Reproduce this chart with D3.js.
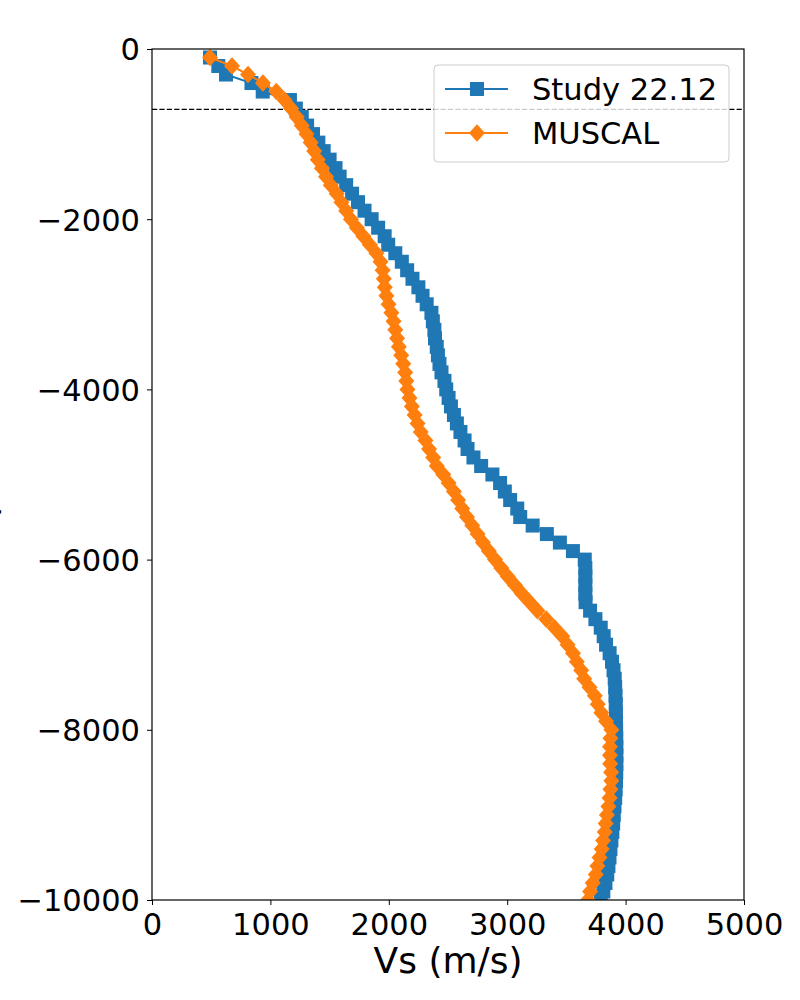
<!DOCTYPE html>
<html lang="en">
<head>
<meta charset="UTF-8">
<title>Vs profile</title>
<script src="https://d3js.org/d3.v7.min.js"></script>
<style>
  body { margin: 0; background: #fff; }
  text { font-family: "DejaVu Sans", sans-serif; fill: #000; }
</style>
</head>
<body>
<script>
  // depth grid (m), shared by both profiles
  var depths = [
    -100, -200, -300, -400, -500, -600, -700, -800, -900, -1000,
    -1100, -1200, -1300, -1400, -1500, -1600, -1700, -1800, -1900, -2000,
    -2100, -2200, -2300, -2400, -2500, -2600, -2700, -2800, -2900, -3000,
    -3100, -3200, -3300, -3400, -3500, -3600, -3700, -3800, -3900, -4000,
    -4100, -4200, -4300, -4400, -4500, -4600, -4700, -4800, -4900, -5000,
    -5100, -5200, -5300, -5400, -5500, -5600, -5700, -5800, -5900, -6000,
    -6100, -6200, -6300, -6400, -6500, -6600, -6700, -6800, -6900, -7000,
    -7100, -7200, -7300, -7400, -7500, -7600, -7700, -7800, -7900, -8000,
    -8100, -8200, -8300, -8400, -8500, -8600, -8700, -8800, -8900, -9000,
    -9100, -9200, -9300, -9400, -9500, -9600, -9700, -9800, -9900, -10000
  ]
  // Vs (m/s) for "Study 22.12"
  var studyVs = [
    490, 560, 625, 840, 935, 1165, 1215, 1265, 1310, 1360,
    1405, 1450, 1500, 1550, 1585, 1640, 1690, 1740, 1795, 1855,
    1910, 1965, 1995, 2055, 2110, 2155, 2200, 2250, 2285, 2320,
    2360, 2372, 2385, 2390, 2405, 2415, 2428, 2445, 2470, 2485,
    2505, 2525, 2550, 2575, 2605, 2640, 2665, 2715, 2780, 2875,
    2940, 2980, 3025, 3085, 3110, 3215, 3335, 3445, 3555, 3655,
    3660, 3660, 3660, 3660, 3662, 3700, 3745, 3790, 3815, 3835,
    3865, 3885, 3898, 3908, 3912, 3915, 3917, 3918, 3919, 3920,
    3921, 3922, 3922, 3922, 3921, 3919, 3916, 3912, 3906, 3900,
    3895, 3888, 3880, 3872, 3864, 3855, 3845, 3830, 3812, 3790
  ]
  // Vs (m/s) for "MUSCAL"
  var muscalVs = [
    490, 676, 811, 937, 1050, 1120, 1175, 1222, 1265, 1305,
    1340, 1370, 1400, 1435, 1470, 1510, 1560, 1600, 1640, 1680,
    1730, 1785, 1840, 1895, 1930, 1948, 1958, 1966, 1980, 1998,
    2022, 2040, 2055, 2070, 2085, 2105, 2122, 2138, 2148, 2158,
    2175, 2195, 2218, 2243, 2270, 2310, 2340, 2375, 2405, 2460,
    2505, 2550, 2585, 2620, 2660, 2705, 2750, 2795, 2845, 2897,
    2950, 3005, 3065, 3125, 3190, 3255, 3330, 3400, 3465, 3510,
    3556, 3588, 3625, 3650, 3695, 3740, 3765, 3795, 3835, 3880,
    3872, 3868, 3868, 3870, 3878, 3880, 3872, 3865, 3855, 3842,
    3832, 3824, 3810, 3798, 3780, 3762, 3748, 3722, 3700, 3682
  ]
  var seriesNames = ['Study 22.12', 'MUSCAL']
  var seriesColors = ['#1f77b4', '#ff7f0e']
  var xTicks = [0, 1000, 2000, 3000, 4000, 5000]
  var yTicks = [0, -2000, -4000, -6000, -8000, -10000]
  var refDepth = -710

  var plotL = 152, plotR = 744, plotT = 49, plotB = 900

  var x = d3.scaleLinear().domain([0, 5000]).range([plotL, plotR])
  var y = d3.scaleLinear().domain([-10000, 0]).range([plotB, plotT])

  var svg = d3.select('body').append('svg').attr('width', 800).attr('height', 1000)

  svg.append('clipPath').attr('id', 'plotclip')
    .append('rect').attr('x', plotL).attr('y', plotT)
    .attr('width', plotR - plotL).attr('height', plotB - plotT)

  var plot = svg.append('g').attr('clip-path', 'url(#plotclip)')

  // reference depth line
  plot.append('line')
    .attr('x1', plotL).attr('x2', plotR)
    .attr('y1', y(refDepth)).attr('y2', y(refDepth))
    .attr('stroke', '#000').attr('stroke-width', 1.2)
    .attr('stroke-dasharray', '5.2,2.2')

  var line = d3.line()
    .x(function(d) { return x(d[0]) })
    .y(function(d) { return y(d[1]) })

  var square = d3.symbol().type(d3.symbolSquare).size(14 * 14)
  var diamond = 'M0,-8.8L8,0L0,8.8L-8,0Z'

  function drawSeries(vals, color, isDiamond) {
    var pts = vals.map(function(v, i) { return [v, depths[i]] })
    plot.append('path')
      .attr('d', line(pts))
      .attr('fill', 'none')
      .attr('stroke', color)
      .attr('stroke-width', 2)
    plot.selectAll(null).data(pts).enter().append('path')
      .attr('d', isDiamond ? diamond : square())
      .attr('transform', function(d) { return 'translate(' + x(d[0]) + ',' + y(d[1]) + ')' })
      .attr('fill', color)
  }
  drawSeries(studyVs, seriesColors[0], false)
  drawSeries(muscalVs, seriesColors[1], true)

  // axes
  var fmt = function(d) { return d3.format('d')(d).replace('-', '\u2212') }
  var xAxis = svg.append('g').attr('transform', 'translate(0,' + plotB + ')')
    .call(d3.axisBottom(x).tickValues(xTicks).tickFormat(fmt).tickSizeOuter(0).tickSize(5).tickPadding(6))
  var yAxis = svg.append('g').attr('transform', 'translate(' + plotL + ',0)')
    .call(d3.axisLeft(y).tickValues(yTicks).tickFormat(fmt).tickSizeOuter(0).tickSize(5).tickPadding(7))
  xAxis.select('.domain').remove()
  yAxis.select('.domain').remove()
  xAxis.selectAll('text').attr('font-size', 30.5).attr('dy', '0.78em')
  yAxis.selectAll('text').attr('font-size', 30.5).attr('dy', '0.36em')
  svg.selectAll('.tick line').attr('stroke', '#000').attr('stroke-width', 1)
  svg.selectAll('.tick text').style('font-family', '"DejaVu Sans", sans-serif').attr('fill', '#000')

  // frame
  svg.append('rect')
    .attr('x', plotL).attr('y', plotT)
    .attr('width', plotR - plotL).attr('height', plotB - plotT)
    .attr('fill', 'none').attr('stroke', '#000').attr('stroke-width', 1.2)

  // labels
  svg.append('text')
    .attr('x', (plotL + plotR) / 2).attr('y', 973)
    .attr('text-anchor', 'middle').attr('font-size', 36)
    .text('Vs (m/s)')
  svg.append('text')
    .attr('transform', 'translate(-6.5,' + ((plotT + plotB) / 2) + ') rotate(-90)')
    .attr('text-anchor', 'middle').attr('font-size', 36)
    .text('Depth (m)')

  // legend
  var lg = svg.append('g')
  lg.append('rect')
    .attr('x', 434).attr('y', 65).attr('width', 295).attr('height', 97)
    .attr('rx', 4).attr('fill', '#fff').attr('fill-opacity', 0.8)
    .attr('stroke', '#cccccc').attr('stroke-width', 1)
  seriesNames.forEach(function(name, i) {
    var ly = 89 + i * 44
    lg.append('line')
      .attr('x1', 445).attr('x2', 508).attr('y1', ly).attr('y2', ly)
      .attr('stroke', seriesColors[i]).attr('stroke-width', 2)
    lg.append('path')
      .attr('d', i === 0 ? square() : diamond)
      .attr('transform', 'translate(477,' + ly + ')')
      .attr('fill', seriesColors[i])
    lg.append('text')
      .attr('x', 532).attr('y', ly + 11)
      .attr('font-size', 30.5)
      .text(name)
  })
</script>
</body>
</html>
